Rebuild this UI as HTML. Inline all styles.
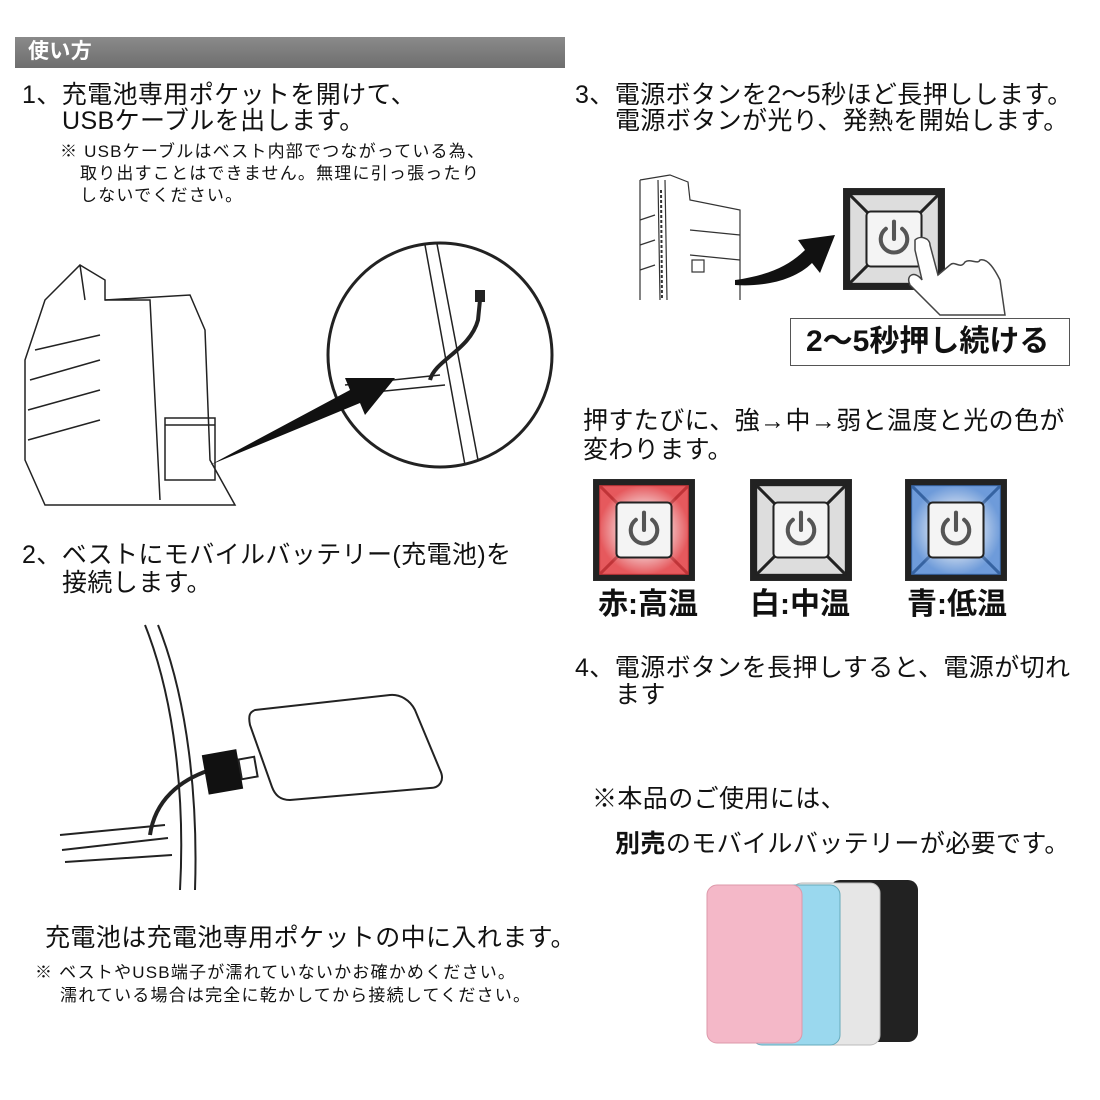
<!DOCTYPE html>
<html><head><meta charset="utf-8">
<style>
body{margin:0;width:1100px;height:1100px;background:#fff;position:relative;overflow:hidden;font-family:"Liberation Sans","Noto Sans CJK JP",sans-serif;color:#111}
.t{position:absolute;white-space:nowrap;font-size:25px;line-height:26px;letter-spacing:0.4px}
.n{position:absolute;white-space:nowrap;font-size:17px;line-height:22px;letter-spacing:1.2px}
.b{font-weight:bold}
svg{position:absolute}
</style></head><body>
<div style="position:absolute;left:15px;top:37px;width:550px;height:31px;background:linear-gradient(#8a8a8a,#6e6e6e)"></div>
<div class="t b" style="left:28px;top:39px;color:#fff;font-size:21px">使い方</div>

<div class="t" style="left:22px;top:82px">1、充電池専用ポケットを開けて、</div>
<div class="t" style="left:62px;top:108px">USBケーブルを出します。</div>
<div class="n" style="left:60px;top:141px">※ USBケーブルはベスト内部でつながっている為、</div>
<div class="n" style="left:80px;top:163px">取り出すことはできません。無理に引っ張ったり</div>
<div class="n" style="left:80px;top:185px">しないでください。</div>

<svg style="left:0;top:230px" width="565" height="290" viewBox="0 230 565 290">
 <g fill="none" stroke="#222" stroke-width="1.5">
  <path d="M80 265 L105 280 L105 300 L190 295 L205 330 L210 460 L235 505 L45 505 L25 460 L25 360 L45 300 Z"/>
  <path d="M80 265 L85 300 M105 300 L150 300 L160 500"/>
  <path d="M30 380 L100 360 M28 410 L100 390 M28 440 L100 420 M35 350 L100 335"/>
  <rect x="165" y="418" width="50" height="62"/><path d="M165 425 L215 425"/>
  <circle cx="440" cy="355" r="112" stroke-width="3"/>
  <path d="M425 245 L465 465 M437 244 L478 460 M345 385 L440 375 M345 395 L445 385"/>
  <path d="M430 380 C435 360 470 350 478 320 L480 300" stroke-width="4"/>
 </g>
 <rect x="475" y="290" width="10" height="12" fill="#222"/>
 <path d="M210 465 L350 390 L345 378 L395 378 L365 415 L360 403 Z" fill="#111"/>
</svg>

<div class="t" style="left:22px;top:542px">2、ベストにモバイルバッテリー(充電池)を</div>
<div class="t" style="left:62px;top:570px">接続します。</div>

<svg style="left:0;top:610px" width="565" height="290" viewBox="0 610 565 290">
 <g fill="none" stroke="#222" stroke-width="2">
  <path d="M145 625 C175 700 185 800 180 890 M158 625 C188 700 198 800 195 890"/>
  <path d="M60 835 L165 825 M62 850 L168 838 M65 862 L172 855"/>
  <path d="M255 710 L390 695 C400 694 410 700 415 710 L440 770 C445 780 440 788 430 788 L290 800 C280 800 275 795 272 787 L250 725 C248 715 250 712 255 710 Z"/>
  <path d="M150 835 C155 800 180 780 210 770" stroke-width="4"/>
 </g>
 <rect x="205" y="752" width="35" height="40" fill="#111" transform="rotate(-10 222 772)"/>
 <rect x="240" y="758" width="16" height="20" fill="none" stroke="#222" stroke-width="2" transform="rotate(-10 248 768)"/>
</svg>

<div class="t" style="left:45px;top:925px">充電池は充電池専用ポケットの中に入れます。</div>
<div class="n" style="left:35px;top:962px">※ ベストやUSB端子が濡れていないかお確かめください。</div>
<div class="n" style="left:60px;top:985px">濡れている場合は完全に乾かしてから接続してください。</div>

<div class="t" style="left:575px;top:82px">3、電源ボタンを2〜5秒ほど長押しします。</div>
<div class="t" style="left:615px;top:108px">電源ボタンが光り、発熱を開始します。</div>

<svg style="left:630px;top:170px" width="120" height="135">
 <g fill="none" stroke="#333" stroke-width="1.2">
  <path d="M10 10 L40 5 L58 12 L60 30 L110 40 L110 130 M10 10 L10 130 M28 10 L30 130 M35 10 L37 130"/>
  <path d="M10 50 L25 45 M10 75 L25 70 M10 100 L25 95 M60 60 L110 65 M60 85 L110 90"/>
  <rect x="62" y="90" width="12" height="12"/>
 </g>
 <path d="M31 20 L32 130" stroke="#333" stroke-width="2" stroke-dasharray="3 2"/>
</svg>
<svg style="left:730px;top:225px" width="110" height="70"><path d="M5 55 C40 50 60 40 75 25 L68 15 L105 10 L90 48 L82 38 C65 55 35 62 5 60 Z" fill="#111"/></svg>

<svg width="0" height="0"><defs>
 <g id="btn">
  <rect x="2" y="2" width="100" height="100" fill="#222"/>
  <rect x="8" y="8" width="88" height="88" fill="#ddd" stroke="#222" stroke-width="2"/>
  <path d="M8 8 L27 27 M96 8 L77 27 M8 96 L27 77 M96 96 L77 77" stroke="#222" stroke-width="3"/>
 </g>
 <g id="core">
  <rect x="25" y="25" width="54" height="54" rx="4" fill="#f4f4f4" stroke="#222" stroke-width="2"/>
  <path d="M44 42 A13 13 0 1 0 60 42" fill="none" stroke="#555" stroke-width="4" stroke-linecap="round"/>
  <path d="M52 35 L52 52" stroke="#555" stroke-width="4" stroke-linecap="round"/>
 </g>
 <radialGradient id="rg"><stop offset="0.3" stop-color="#fff" stop-opacity=".8"/><stop offset="1" stop-color="#e8383d" stop-opacity=".8"/></radialGradient>
 <radialGradient id="bg"><stop offset="0.3" stop-color="#fff" stop-opacity=".8"/><stop offset="1" stop-color="#3f7fd8" stop-opacity=".7"/></radialGradient>
</defs></svg>
<svg style="left:841px;top:186px" width="106" height="106" viewBox="0 0 104 104"><use href="#btn"/><use href="#core"/></svg>
<svg style="left:900px;top:230px" width="110" height="90"><path d="M15 10 C20 5 30 8 30 15 L38 45 L50 35 C55 30 60 40 65 32 C70 28 78 35 80 30 C88 28 95 40 100 50 L105 85 L40 85 L10 55 C5 45 15 40 22 50 L15 20 Z" fill="#fff" stroke="#444" stroke-width="1.5"/></svg>

<div style="position:absolute;left:790px;top:318px;width:280px;height:48px;border:1.5px solid #555;box-sizing:border-box"></div>
<div class="t b" style="left:806px;top:325px;font-size:30px;line-height:34px;letter-spacing:0">2〜5秒押し続ける</div>

<div class="t" style="left:583px;top:408px">押すたびに、強→中→弱と温度と光の色が</div>
<div class="t" style="left:583px;top:437px">変わります。</div>

<svg style="left:591px;top:477px" width="106" height="106" viewBox="0 0 104 104"><use href="#btn"/><rect x="8" y="8" width="88" height="88" fill="url(#rg)"/><use href="#core"/></svg>
<svg style="left:748px;top:477px" width="106" height="106" viewBox="0 0 104 104"><use href="#btn"/><use href="#core"/></svg>
<svg style="left:903px;top:477px" width="106" height="106" viewBox="0 0 104 104"><use href="#btn"/><rect x="8" y="8" width="88" height="88" fill="url(#bg)"/><use href="#core"/></svg>

<div class="t b" style="left:598px;top:588px;font-size:30px;line-height:34px;letter-spacing:0">赤:高温</div>
<div class="t b" style="left:750px;top:588px;font-size:30px;line-height:34px;letter-spacing:0">白:中温</div>
<div class="t b" style="left:907px;top:588px;font-size:30px;line-height:34px;letter-spacing:0">青:低温</div>

<div class="t" style="left:575px;top:655px">4、電源ボタンを長押しすると、電源が切れ</div>
<div class="t" style="left:615px;top:682px">ます</div>

<div class="t" style="left:592px;top:786px">※本品のご使用には、</div>
<div class="t" style="left:615px;top:831px"><b>別売</b>のモバイルバッテリーが必要です。</div>

<svg style="left:700px;top:875px" width="230" height="175">
 <rect x="130" y="5" width="88" height="162" rx="10" fill="#222"/>
 <rect x="92" y="8" width="88" height="162" rx="10" fill="#e6e6e6" stroke="#bbb"/>
 <rect x="52" y="10" width="88" height="160" rx="10" fill="#9ad8ee" stroke="#6ab"/>
 <rect x="7" y="10" width="95" height="158" rx="10" fill="#f4b8c8" stroke="#d9a"/>
</svg>
</body></html>
